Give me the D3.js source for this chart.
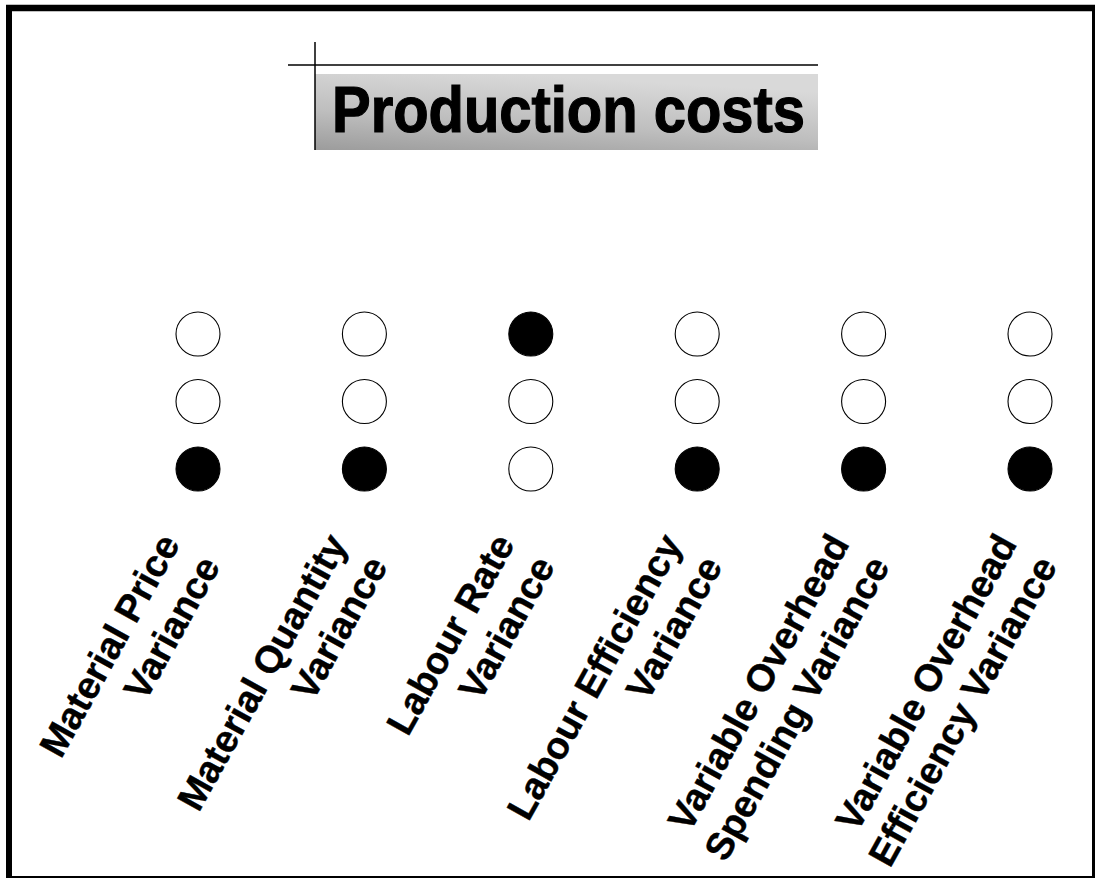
<!DOCTYPE html>
<html>
<head>
<meta charset="utf-8">
<script src="https://cdn.jsdelivr.net/npm/d3@7"></script>
<style>
  html, body { margin: 0; padding: 0; background: #ffffff; }
  svg { display: block; }
</style>
</head>
<body>
<div id="chart"></div>
<script>
// ---- data ----
const title = "Production costs";
const categories = [
  "Material Price Variance",
  "Material Quantity Variance",
  "Labour Rate Variance",
  "Labour Efficiency Variance",
  "Variable Overhead Spending Variance",
  "Variable Overhead Efficiency Variance"
];
const labelLine1 = ["Material Price", "Material Quantity", "Labour Rate", "Labour Efficiency", "Variable Overhead", "Variable Overhead"];
const labelLine2 = ["Variance", "Variance", "Variance", "Variance", "Spending Variance", "Efficiency Variance"];
const levels = [3, 2, 1];                 // rows, top to bottom
const selectedLevel = [1, 1, 3, 1, 1, 1]; // filled circle per category

// ---- layout ----
const W = 1100, H = 879;
const svg = d3.select("#chart").append("svg").attr("width", W).attr("height", H);

// frame
const frame = svg.append("g").attr("stroke", "#000").attr("fill", "none");
frame.append("line").attr("x1", 6).attr("x2", 1095).attr("y1", 8).attr("y2", 8).attr("stroke-width", 6.5);
frame.append("line").attr("x1", 9).attr("x2", 9).attr("y1", 5).attr("y2", 878).attr("stroke-width", 6);
frame.append("line").attr("x1", 1093.5).attr("x2", 1093.5).attr("y1", 5).attr("y2", 878).attr("stroke-width", 3);
frame.append("line").attr("x1", 6).attr("x2", 1095).attr("y1", 877).attr("y2", 877).attr("stroke-width", 2);

// title box with gradient
const defs = svg.append("defs");
const grad = defs.append("linearGradient").attr("id", "tg")
  .attr("x1", "0").attr("y1", "1").attr("x2", "0.4").attr("y2", "0");
grad.append("stop").attr("offset", "0").attr("stop-color", "#9c9c9c");
grad.append("stop").attr("offset", "0.45").attr("stop-color", "#bebebe");
grad.append("stop").attr("offset", "1").attr("stop-color", "#d9d9d9");

svg.append("rect").attr("x", 315).attr("y", 74).attr("width", 503).attr("height", 76)
  .attr("fill", "url(#tg)");
svg.append("line").attr("x1", 288).attr("x2", 818).attr("y1", 65).attr("y2", 65)
  .attr("stroke", "#000").attr("stroke-width", 1.5);
svg.append("line").attr("x1", 315).attr("x2", 315).attr("y1", 42).attr("y2", 150)
  .attr("stroke", "#000").attr("stroke-width", 1.5);
svg.append("text").attr("x", 332).attr("y", 132)
  .attr("font-family", "Liberation Sans, Arial, sans-serif")
  .attr("font-weight", "bold").attr("font-size", 64)
  .attr("textLength", 473).attr("lengthAdjust", "spacingAndGlyphs")
  .attr("fill", "#000").attr("stroke", "#000").attr("stroke-width", 1.2)
  .text(title);

// scales
const x = d3.scalePoint().domain(categories).range([198, 1030]);
const xLabel = d3.scalePoint().domain(categories).range([221, 1058]);
const y = d3.scalePoint().domain(levels).range([334, 469]);
const r = 22;

const cells = [];
categories.forEach((c, i) => levels.forEach(l => cells.push({ c, l, on: selectedLevel[i] === l })));

svg.append("g").selectAll("circle").data(cells).join("circle")
  .attr("cx", d => x(d.c)).attr("cy", d => y(d.l)).attr("r", r)
  .attr("fill", d => d.on ? "#000" : "#fff")
  .attr("stroke", "#000").attr("stroke-width", 1.1);

// rotated labels
const fs = 38, lh = 46;
const lab = svg.append("g").selectAll("g").data(categories).join("g")
  .attr("transform", d => `translate(${xLabel(d)},566) rotate(-61)`);
lab.append("text")
  .attr("font-family", "Liberation Sans, Arial, sans-serif")
  .attr("font-weight", "bold").attr("font-size", fs)
  .attr("text-anchor", "end").attr("fill", "#000")
  .attr("stroke", "#000").attr("stroke-width", 0.4)
  .each(function (d, i) {
    const t = d3.select(this);
    t.append("tspan").attr("x", 0).attr("y", -lh).text(labelLine1[i]);
    t.append("tspan").attr("x", 0).attr("y", 0).text(labelLine2[i]);
  });
</script>
</body>
</html>
